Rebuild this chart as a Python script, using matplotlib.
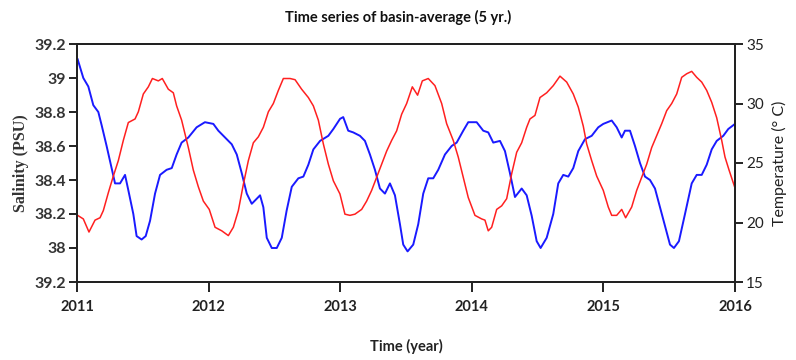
import matplotlib
matplotlib.use("Agg")
import matplotlib.pyplot as plt
from matplotlib.ticker import FixedLocator, FixedFormatter

# ---- data ----
sal_time = [2011.005, 2011.048, 2011.086, 2011.124, 2011.162, 2011.188, 2011.225, 2011.263, 2011.289, 2011.327,
            2011.365, 2011.390, 2011.428, 2011.453, 2011.491, 2011.522, 2011.555, 2011.593, 2011.631, 2011.681,
            2011.720, 2011.757, 2011.795, 2011.846, 2011.909, 2011.972, 2012.036, 2012.074, 2012.125, 2012.176,
            2012.214, 2012.252, 2012.290, 2012.328, 2012.366, 2012.391, 2012.416, 2012.442, 2012.480, 2012.518,
            2012.556, 2012.593, 2012.632, 2012.682, 2012.720, 2012.758, 2012.796, 2012.847, 2012.910, 2012.948,
            2012.999, 2013.023, 2013.061, 2013.099, 2013.150, 2013.188, 2013.226, 2013.264, 2013.302, 2013.340,
            2013.378, 2013.416, 2013.454, 2013.479, 2013.512, 2013.555, 2013.593, 2013.631, 2013.669, 2013.707,
            2013.745, 2013.796, 2013.847, 2013.885, 2013.935, 2013.973, 2014.037, 2014.087, 2014.125, 2014.163,
            2014.214, 2014.252, 2014.290, 2014.328, 2014.379, 2014.417, 2014.455, 2014.493, 2014.523, 2014.569,
            2014.619, 2014.657, 2014.695, 2014.733, 2014.771, 2014.809, 2014.860, 2014.911, 2014.961, 2014.999,
            2015.063, 2015.101, 2015.139, 2015.164, 2015.202, 2015.240, 2015.278, 2015.316, 2015.354, 2015.392,
            2015.430, 2015.468, 2015.506, 2015.536, 2015.574, 2015.620, 2015.671, 2015.709, 2015.747, 2015.785,
            2015.823, 2015.861, 2015.911, 2015.949, 2016.000]
salinity = [39.11, 39.00, 38.95, 38.84, 38.80, 38.72, 38.60, 38.47, 38.38, 38.38,
            38.43, 38.34, 38.20, 38.07, 38.05, 38.07, 38.16, 38.32, 38.43, 38.46,
            38.47, 38.55, 38.62, 38.65, 38.71, 38.74, 38.73, 38.69, 38.65, 38.61,
            38.55, 38.44, 38.32, 38.26, 38.29, 38.31, 38.24, 38.06, 38.00, 38.00,
            38.06, 38.22, 38.36, 38.41, 38.42, 38.49, 38.58, 38.63, 38.66, 38.70,
            38.76, 38.77, 38.69, 38.68, 38.66, 38.63, 38.55, 38.46, 38.35, 38.32,
            38.38, 38.31, 38.14, 38.02, 37.98, 38.02, 38.14, 38.32, 38.41, 38.41,
            38.46, 38.55, 38.60, 38.62, 38.69, 38.74, 38.74, 38.69, 38.68, 38.62,
            38.63, 38.57, 38.44, 38.30, 38.35, 38.31, 38.19, 38.04, 38.00, 38.06,
            38.20, 38.38, 38.43, 38.42, 38.47, 38.57, 38.64, 38.66, 38.71, 38.73,
            38.75, 38.71, 38.65, 38.69, 38.69, 38.60, 38.50, 38.42, 38.40, 38.35,
            38.24, 38.13, 38.02, 38.00, 38.04, 38.20, 38.38, 38.43, 38.43, 38.49,
            38.58, 38.63, 38.66, 38.70, 38.73]

temp_time = [2011.005, 2011.048, 2011.091, 2011.137, 2011.175, 2011.200, 2011.238, 2011.276, 2011.314, 2011.352,
             2011.390, 2011.441, 2011.466, 2011.504, 2011.542, 2011.573, 2011.618, 2011.648, 2011.694, 2011.732,
             2011.757, 2011.795, 2011.846, 2011.884, 2011.922, 2011.960, 2012.005, 2012.049, 2012.100, 2012.150,
             2012.188, 2012.226, 2012.264, 2012.302, 2012.340, 2012.378, 2012.416, 2012.454, 2012.492, 2012.530,
             2012.568, 2012.619, 2012.657, 2012.707, 2012.758, 2012.796, 2012.834, 2012.872, 2012.910, 2012.948,
             2012.998, 2013.036, 2013.074, 2013.112, 2013.163, 2013.201, 2013.239, 2013.277, 2013.315, 2013.353,
             2013.391, 2013.429, 2013.467, 2013.505, 2013.548, 2013.588, 2013.624, 2013.669, 2013.720, 2013.771,
             2013.809, 2013.859, 2013.897, 2013.935, 2013.973, 2014.024, 2014.075, 2014.100, 2014.125, 2014.151,
             2014.189, 2014.227, 2014.265, 2014.303, 2014.341, 2014.379, 2014.417, 2014.442, 2014.480, 2014.518,
             2014.569, 2014.619, 2014.670, 2014.721, 2014.771, 2014.809, 2014.847, 2014.873, 2014.911, 2014.949,
             2014.999, 2015.037, 2015.063, 2015.101, 2015.139, 2015.169, 2015.215, 2015.253, 2015.291, 2015.329,
             2015.367, 2015.405, 2015.443, 2015.481, 2015.519, 2015.557, 2015.595, 2015.633, 2015.671, 2015.709,
             2015.747, 2015.785, 2015.823, 2015.861, 2015.899, 2015.924, 2015.955, 2016.000]
temperature = [20.6, 20.3, 19.2, 20.2, 20.4, 21.0, 22.5, 23.9, 25.2, 26.9,
               28.4, 28.7, 29.3, 30.8, 31.4, 32.1, 31.9, 32.1, 31.2, 30.9,
               29.8, 28.6, 26.3, 24.4, 23.0, 21.8, 21.1, 19.6, 19.3, 18.9,
               19.6, 21.0, 23.2, 25.2, 26.7, 27.2, 28.0, 29.3, 30.0, 31.1,
               32.1, 32.1, 32.0, 31.2, 30.5, 29.8, 28.6, 26.6, 24.9, 23.5,
               22.4, 20.7, 20.6, 20.7, 21.1, 21.8, 22.7, 23.8, 24.9, 26.0,
               26.9, 27.7, 29.1, 30.0, 31.4, 30.7, 31.9, 32.1, 31.5, 30.0,
               28.3, 26.9, 25.5, 23.8, 22.1, 20.6, 20.3, 20.2, 19.3, 19.6,
               21.1, 21.4, 22.0, 24.1, 25.9, 26.7, 28.0, 28.7, 29.0, 30.5,
               30.9, 31.5, 32.3, 31.8, 30.8, 29.7, 28.1, 26.6, 25.2, 23.9,
               22.7, 21.3, 20.6, 20.6, 21.1, 20.4, 21.3, 22.7, 23.8, 24.9,
               26.3, 27.3, 28.3, 29.4, 30.0, 30.8, 32.2, 32.5, 32.7, 32.2,
               31.8, 31.1, 30.1, 28.8, 26.9, 25.5, 24.4, 22.9]

year_ticks = [2011, 2012, 2013, 2014, 2015, 2016]
sal_ticks = [37.8, 38.0, 38.2, 38.4, 38.6, 38.8, 39.0, 39.2]
sal_tick_labels = ['39.2', '38', '38.2', '38.4', '38.6', '38.8', '39', '39.2']
temp_ticks = [15, 20, 25, 30, 35]

title = "Time series of basin-average (5 yr.)"
xlabel = "Time (year)"
ylabel_left = "Salinity (PSU)"
ylabel_right = "Temperature (° C)"

# ---- figure ----
fig = plt.figure(figsize=(7.96, 3.60), dpi=100)
ax = fig.add_axes([77/796, 1-282/360, (735-77)/796, (282-44)/360])
ax2 = ax.twinx()

ax.plot(sal_time, salinity, color='#1a1aff', lw=1.4)
ax2.plot(temp_time, temperature, color='#ff2020', lw=1.1)

ax.set_xlim(2011, 2016)
ax.set_ylim(37.8, 39.2)
ax2.set_ylim(15, 35)

sans = ['Lato', 'DejaVu Sans']
ax.xaxis.set_major_locator(FixedLocator(year_ticks))
ax.set_xticklabels([str(y) for y in year_ticks], fontfamily=sans, fontweight='bold', fontsize=10.5)
ax.yaxis.set_major_locator(FixedLocator(sal_ticks))
ax.yaxis.set_major_formatter(FixedFormatter(sal_tick_labels))
for t in ax.get_yticklabels():
    t.set_fontfamily(sans); t.set_fontweight('bold'); t.set_fontsize(11.5)
ax2.yaxis.set_major_locator(FixedLocator(temp_ticks))
ax2.set_yticklabels([str(t) for t in temp_ticks], fontfamily=sans, fontsize=11)

for a in (ax, ax2):
    for s in a.spines.values():
        s.set_linewidth(1.4)
        s.set_color('#222222')
ax.tick_params(axis='x', direction='out', length=7, width=1.4, pad=6, colors='#222222', labelcolor='#222222')
ax.tick_params(axis='y', direction='out', length=6, width=1.4, pad=2, colors='#222222', labelcolor='#333333')
ax2.tick_params(axis='y', direction='out', length=6, width=1.4, pad=2, colors='#222222', labelcolor='#222222')

ax.set_ylabel(ylabel_left, fontfamily=['Liberation Serif', 'DejaVu Serif'], fontweight='bold',
              fontsize=11.5, color='#333333', labelpad=4)
ax2.set_ylabel(ylabel_right, fontfamily=sans, fontsize=11.5, color='#222222', labelpad=6)
ax.set_xlabel(xlabel, fontfamily=sans, fontweight='bold', fontsize=10.5, labelpad=18, color='#222222')
fig.text(0.5, 1-17/360, title, ha='center', va='center', fontfamily=sans, fontweight='bold',
         fontsize=10.5, color='#111111')

fig.savefig('out.png', dpi=100)
